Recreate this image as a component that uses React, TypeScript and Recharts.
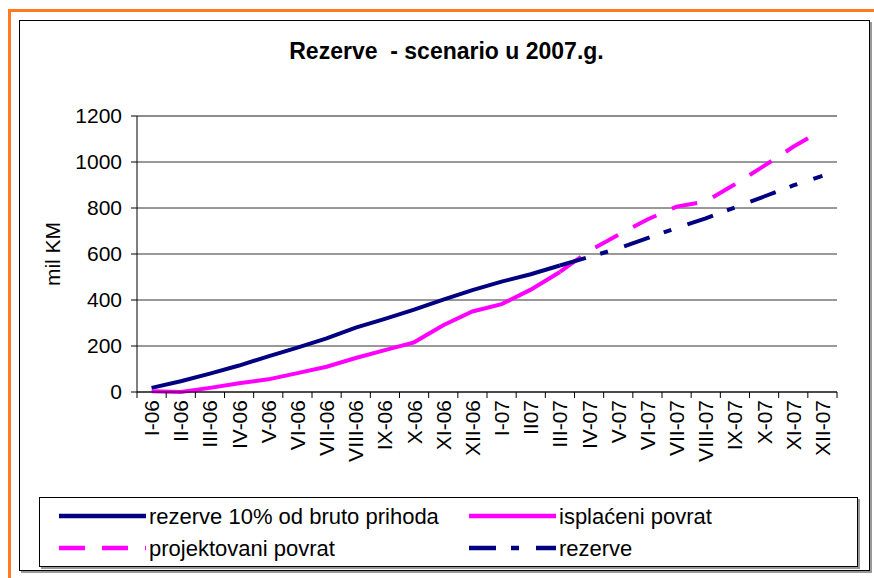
import React from "react";
import {
  LineChart, Line, XAxis, YAxis, CartesianGrid, ReferenceLine,
} from "recharts";

// categories (as printed on the axis, "II07" included)
const months = [
  "I-06", "II-06", "III-06", "IV-06", "V-06", "VI-06", "VII-06", "VIII-06",
  "IX-06", "X-06", "XI-06", "XII-06", "I-07", "II07", "III-07", "IV-07",
  "V-07", "VI-07", "VII-07", "VIII-07", "IX-07", "X-07", "XI-07", "XII-07",
];

// actuals, I-06 .. III-07
const rezerveBruto = [18, 47, 80, 115, 155, 193, 233, 280, 318, 358, 402, 443, 480, 512, 550];
const isplaceni = [3, 0, 18, 38, 55, 82, 110, 148, 182, 216, 290, 350, 382, 445, 522];

// projections, III-07 .. XII-07
const projektovani = [522, 613, 683, 750, 806, 828, 903, 983, 1066, 1140];
const rezerveProj = [550, 587, 624, 669, 713, 755, 802, 850, 898, 940];
const PROJ_START = 14;

const yTicks = [0, 200, 400, 600, 800, 1000, 1200];

const data = months.map((m, i) => ({
  month: m,
  bruto: i < rezerveBruto.length ? rezerveBruto[i] : null,
  isplaceni: i < isplaceni.length ? isplaceni[i] : null,
  projektovani: i >= PROJ_START ? projektovani[i - PROJ_START] : null,
  rezerve: i >= PROJ_START ? rezerveProj[i - PROJ_START] : null,
}));

const NAVY = "#000080";
const PINK = "#ff00ff";
const FONT = "'Liberation Sans', Arial, sans-serif";

const series = [
  { key: "bruto", name: "rezerve 10% od bruto prihoda", color: NAVY, dash: undefined },
  { key: "isplaceni", name: "isplaćeni povrat", color: PINK, dash: undefined },
  { key: "projektovani", name: "projektovani povrat", color: PINK, dash: "26 17" },
  { key: "rezerve", name: "rezerve", color: NAVY, dash: "27 15 8 17" },
];

const PLOT_LEFT = 137;
const PLOT_RIGHT = 837;
const BAND = (PLOT_RIGHT - PLOT_LEFT) / months.length;

function MonthTick(props: any) {
  const { x, y, payload, index } = props;
  const ty = y + 8;
  return (
    <g>
      <line x1={x - BAND / 2} x2={x - BAND / 2} y1={y} y2={y + 6} stroke="#000" />
      {index === months.length - 1 && (
        <line x1={x + BAND / 2} x2={x + BAND / 2} y1={y} y2={y + 6} stroke="#000" />
      )}
      <text
        x={x}
        y={ty}
        transform={`rotate(-90, ${x}, ${ty})`}
        textAnchor="end"
        dominantBaseline="central"
        fontSize={21}
        fontFamily={FONT}
        fill="#000"
      >
        {payload.value}
      </text>
    </g>
  );
}

function YLabel(props: any) {
  const vb = props.viewBox;
  const cx = 52;
  const cy = vb.y + vb.height / 2;
  return (
    <text
      x={cx}
      y={cy}
      transform={`rotate(-90, ${cx}, ${cy})`}
      textAnchor="middle"
      dominantBaseline="central"
      fontSize={21}
      fontFamily={FONT}
      fill="#000"
    >
      mil KM
    </text>
  );
}

const legendCols = [58, 468];
const legendRows = [18, 50];

function LegendBox() {
  return (
    <svg width={819} height={70} style={{ position: "absolute", left: 0, top: 0 }}>
      {series.map((s, i) => {
        const x0 = legendCols[i % 2] - 39;
        const y0 = legendRows[Math.floor(i / 2)];
        return (
          <g key={s.key}>
            <line
              x1={x0}
              x2={x0 + 87}
              y1={y0}
              y2={y0}
              stroke={s.color}
              strokeWidth={4.5}
              strokeDasharray={s.dash}
            />
            <text
              x={x0 + 90}
              y={y0}
              dominantBaseline="central"
              fontSize={22}
              fontFamily={FONT}
              fill="#000"
            >
              {s.name}
            </text>
          </g>
        );
      })}
    </svg>
  );
}

export default function App() {
  return (
    <div style={{ position: "absolute", left: 0, top: 0, width: 874, height: 578, overflow: "hidden", background: "#fff", fontFamily: FONT }}>
      <div style={{ position: "absolute", left: 8, top: 9, width: 900, height: 600, borderTop: "3px solid #ff7a22", borderLeft: "3px solid #ff7a22" }} />
      <div style={{ position: "absolute", left: 19, top: 20, width: 849, height: 549, border: "1.5px solid #000", boxShadow: "2px 2px 0 #999", background: "#fff" }} />
      <div style={{ position: "absolute", left: 21, top: 38, width: 851, textAlign: "center", fontWeight: "bold", fontSize: 23, whiteSpace: "pre", color: "#000" }}>
        {"Rezerve  - scenario u 2007.g."}
      </div>
      <div style={{ position: "absolute", left: 0, top: 0 }}>
        <LineChart width={874} height={578} data={data} margin={{ top: 116, right: 37, bottom: 106, left: 20 }}>
          <CartesianGrid vertical={false} stroke="#333" />
          <XAxis
            dataKey="month"
            interval={0}
            padding={{ left: BAND / 2, right: BAND / 2 }}
            height={80}
            tickSize={0}
            tickMargin={0}
            tickLine={false}
            axisLine={{ stroke: "#000" }}
            tick={<MonthTick />}
          />
          <YAxis
            domain={[0, 1200]}
            ticks={yTicks}
            width={117}
            tickSize={6}
            tickMargin={9}
            axisLine={{ stroke: "#000" }}
            tickLine={{ stroke: "#000" }}
            tick={{ fontSize: 21, fill: "#000", fontFamily: FONT }}
            label={{ content: <YLabel /> }}
          />
          <YAxis
            yAxisId="right"
            orientation="right"
            domain={[0, 1200]}
            width={0}
            tick={false}
            tickLine={false}
            axisLine={{ stroke: "#808080" }}
          />
          <ReferenceLine y={1200} stroke="#808080" />
          {series.map((s) => (
            <Line
              key={s.key}
              dataKey={s.key}
              name={s.name}
              type="linear"
              stroke={s.color}
              strokeWidth={4}
              strokeDasharray={s.dash}
              dot={false}
              activeDot={false}
              connectNulls={false}
              isAnimationActive={false}
            />
          ))}
        </LineChart>
      </div>
      <div style={{ position: "absolute", left: 39, top: 497, width: 817, height: 68, border: "1.5px solid #000", boxShadow: "2px 2px 0 #999", background: "#fff" }}>
        <LegendBox />
      </div>
    </div>
  );
}
